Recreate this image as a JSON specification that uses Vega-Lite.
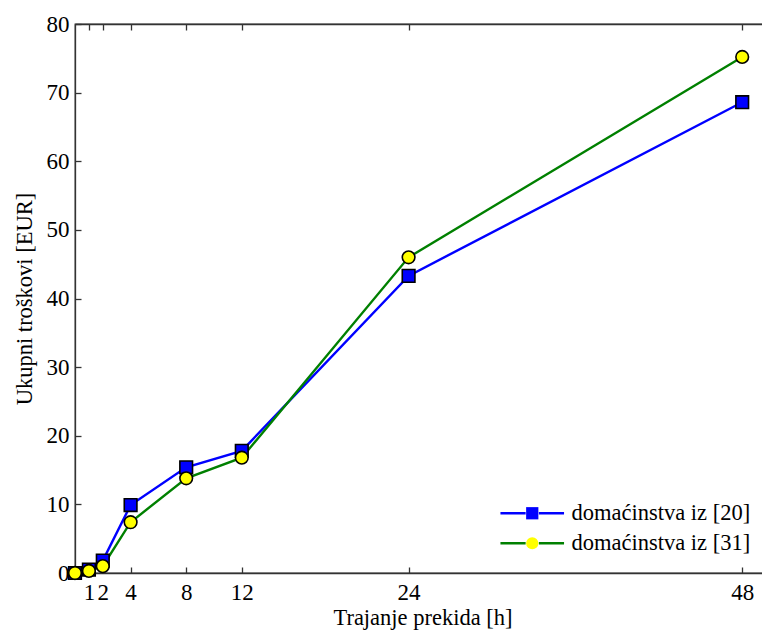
{
  "$schema": "https://vega.github.io/schema/vega-lite/v6.json",
  "autosize": "none",
  "width": 695,
  "height": 549,
  "padding": {"left": 75, "top": 24, "right": 0, "bottom": 57},
  "background": "white",
  "view": {"stroke": "#333333", "strokeWidth": 1.3},
  "config": {
    "font": "Liberation Serif",
    "axis": {
      "labelFont": "Liberation Serif",
      "titleFont": "Liberation Serif",
      "labelFontSize": 23,
      "titleFontSize": 22.5,
      "titleFontWeight": "normal",
      "labelColor": "black",
      "titleColor": "black",
      "domainColor": "#333333",
      "domainWidth": 1.3,
      "tickColor": "#333333",
      "tickWidth": 1.3,
      "tickSize": -6,
      "grid": false
    },
    "legend": {
      "labelFont": "Liberation Serif",
      "labelFontSize": 22.5,
      "labelColor": "black",
      "labelLimit": 400
    }
  },
  "data": {
    "values": [
      {"h": 0, "v": 0.0, "series": "domaćinstva iz [20]"},
      {"h": 1, "v": 0.5, "series": "domaćinstva iz [20]"},
      {"h": 2, "v": 1.8, "series": "domaćinstva iz [20]"},
      {"h": 4, "v": 9.9, "series": "domaćinstva iz [20]"},
      {"h": 8, "v": 15.4, "series": "domaćinstva iz [20]"},
      {"h": 12, "v": 17.8, "series": "domaćinstva iz [20]"},
      {"h": 24, "v": 43.3, "series": "domaćinstva iz [20]"},
      {"h": 48, "v": 68.6, "series": "domaćinstva iz [20]"},
      {"h": 0, "v": 0.0, "series": "domaćinstva iz [31]"},
      {"h": 1, "v": 0.3, "series": "domaćinstva iz [31]"},
      {"h": 2, "v": 1.0, "series": "domaćinstva iz [31]"},
      {"h": 4, "v": 7.4, "series": "domaćinstva iz [31]"},
      {"h": 8, "v": 13.8, "series": "domaćinstva iz [31]"},
      {"h": 12, "v": 16.8, "series": "domaćinstva iz [31]"},
      {"h": 24, "v": 46.0, "series": "domaćinstva iz [31]"},
      {"h": 48, "v": 75.2, "series": "domaćinstva iz [31]"}
    ]
  },
  "layer": [
    {
      "mark": {"type": "line", "strokeWidth": 2.4, "clip": true},
      "encoding": {
        "x": {
          "field": "h", "type": "quantitative",
          "scale": {"domain": [0, 50], "nice": false, "zero": false},
          "axis": {"values": [1, 2, 4, 8, 12, 24, 48], "title": "Trajanje prekida [h]", "labelPadding": 14, "titlePadding": 2}
        },
        "y": {
          "field": "v", "type": "quantitative",
          "scale": {"domain": [0, 80], "nice": false},
          "axis": {"values": [0, 10, 20, 30, 40, 50, 60, 70, 80], "title": "Ukupni troškovi [EUR]", "labelPadding": 12, "titlePadding": 10}
        },
        "stroke": {
          "field": "series", "type": "nominal",
          "scale": {"domain": ["domaćinstva iz [20]", "domaćinstva iz [31]"], "range": ["#0000ff", "#008000"]},
          "legend": {
            "title": null, "orient": "none", "legendX": 446, "legendY": 478,
            "padding": 0, "symbolType": "M-5.3,0H-1.1M1.1,0H5.3", "symbolSize": 144,
            "symbolStrokeWidth": 2.4, "labelOffset": 28, "rowPadding": 7,
            "labelOpacity": 0, "zindex": 0
          }
        },
        "order": {"field": "h"}
      }
    },
    {
      "mark": {"type": "point", "filled": true, "size": 160, "stroke": "black", "strokeWidth": 1.6, "opacity": 1},
      "encoding": {
        "x": {
          "field": "h", "type": "quantitative",
          "axis": {"orient": "top", "values": [1, 2, 4, 8, 12, 24, 48], "labels": false, "title": null}
        },
        "y": {"field": "v", "type": "quantitative"},
        "fill": {
          "field": "series", "type": "nominal",
          "scale": {"range": ["#0000ff", "#ffff00"]},
          "legend": {
            "title": null, "orient": "none", "legendX": 446, "legendY": 478,
            "padding": 0, "symbolSize": 150, "symbolStrokeColor": "black",
            "symbolStrokeWidth": 1.8, "labelOffset": 28, "rowPadding": 7, "zindex": 2,
            "encode": {"symbols": {
              "enter": {"stroke": {"value": "black"}, "strokeWidth": {"value": 1.8}, "strokeOpacity": {"value": 1}},
              "update": {"stroke": {"value": "black"}, "strokeWidth": {"value": 1.8}, "strokeOpacity": {"value": 1}}
            }}
          }
        },
        "shape": {
          "field": "series", "type": "nominal",
          "scale": {"range": ["square", "circle"]},
          "legend": {
            "title": null, "orient": "none", "legendX": 446, "legendY": 478,
            "padding": 0, "symbolSize": 150, "symbolStrokeColor": "black",
            "symbolStrokeWidth": 1.8, "labelOffset": 28, "rowPadding": 7, "zindex": 2,
            "encode": {"symbols": {
              "enter": {"stroke": {"value": "black"}, "strokeWidth": {"value": 1.8}, "strokeOpacity": {"value": 1}},
              "update": {"stroke": {"value": "black"}, "strokeWidth": {"value": 1.8}, "strokeOpacity": {"value": 1}}
            }}
          }
        }
      }
    }
  ],
  "resolve": {"axis": {"x": "independent"}}
}
